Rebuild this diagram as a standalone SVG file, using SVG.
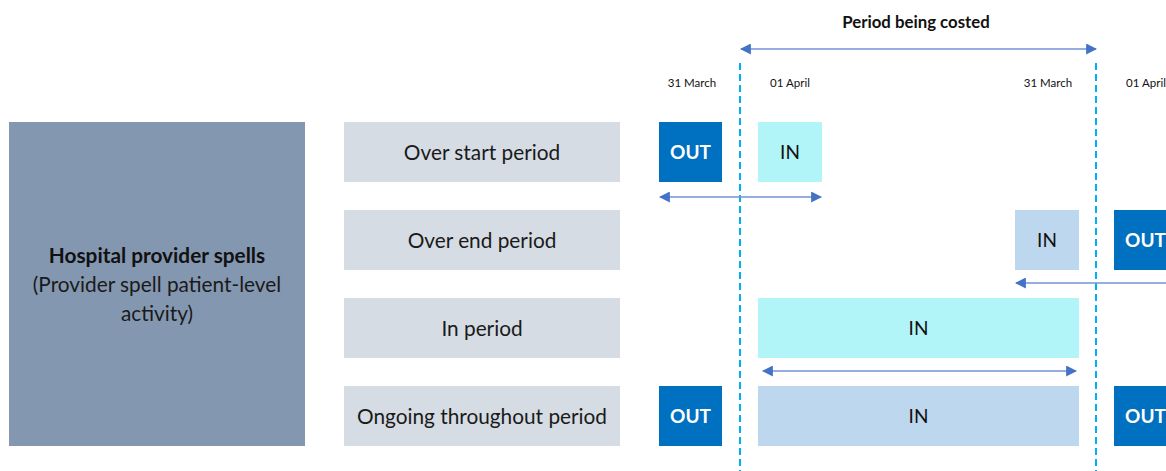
<svg xmlns="http://www.w3.org/2000/svg" width="1166" height="471" viewBox="0 0 1166 471">
<style>
text{font-family:Lato,"Open Sans","Liberation Sans",sans-serif;text-anchor:middle}
.lbl{fill:#D6DCE4}
.row{font-size:20.8px;fill:#1a1a1a}
.out{fill:#0070C0}
.outt{font-size:19px;font-weight:bold;fill:#ffffff}
.cyan{fill:#B2F5F9}
.lb{fill:#BDD7EE}
.int{font-size:19px;fill:#111}
.date{font-size:11.5px;fill:#111}
.arr{stroke:#7093D6;stroke-width:1.6;fill:none}
.dash{stroke:#00B0F0;stroke-width:2;stroke-dasharray:7,4;fill:none}
</style>
<defs>
<marker id="ah" viewBox="0 0 10 10" refX="9" refY="5" markerWidth="11" markerHeight="11" markerUnits="userSpaceOnUse" orient="auto-start-reverse">
<path d="M0,0 L10,5 L0,10 Z" fill="#4472C4"/>
</marker>
</defs>
<rect width="1166" height="471" fill="#ffffff"/>
<g id="header">
<text x="916" y="28" style="font-size:16.8px;font-weight:bold;fill:#111">Period being costed</text>
<text class="date" x="692" y="87">31 March</text>
<text class="date" x="790" y="87">01 April</text>
<text class="date" x="1048" y="87">31 March</text>
<text class="date" x="1146" y="87">01 April</text>
</g>
<g id="main">
<rect x="9" y="122" width="296" height="324" fill="#8497B0"/>
<text x="157" y="263" style="font-size:20.8px;font-weight:bold;fill:#111">Hospital provider spells</text>
<text x="157" y="292" style="font-size:20.8px;fill:#1a1a1a">(Provider spell patient-level</text>
<text x="157" y="321" style="font-size:20.8px;fill:#1a1a1a">activity)</text>
</g>
<g id="row1">
<rect class="lbl" x="344" y="122" width="276" height="60"/>
<text class="row" x="482" y="159.5">Over start period</text>
<rect class="out" x="659" y="122" width="63" height="60"/>
<text class="outt" x="690.5" y="159">OUT</text>
<rect class="cyan" x="758" y="122" width="64" height="60"/>
<text class="int" x="790" y="159">IN</text>
</g>
<g id="row2">
<rect class="lbl" x="344" y="210" width="276" height="60"/>
<text class="row" x="482" y="247.5">Over end period</text>
<rect class="lb" x="1015" y="210" width="64" height="60"/>
<text class="int" x="1047" y="247">IN</text>
<rect class="out" x="1114" y="210" width="63" height="60"/>
<text class="outt" x="1145.5" y="247">OUT</text>
</g>
<g id="row3">
<rect class="lbl" x="344" y="298" width="276" height="60"/>
<text class="row" x="482" y="335.5">In period</text>
<rect class="cyan" x="758" y="298" width="321" height="60"/>
<text class="int" x="918.5" y="335">IN</text>
</g>
<g id="row4">
<rect class="lbl" x="344" y="386" width="276" height="60"/>
<text class="row" x="482" y="423.5">Ongoing throughout period</text>
<rect class="out" x="659" y="386" width="63" height="60"/>
<text class="outt" x="690.5" y="423">OUT</text>
<rect class="lb" x="758" y="386" width="321" height="60"/>
<text class="int" x="918.5" y="423">IN</text>
<rect class="out" x="1114" y="386" width="63" height="60"/>
<text class="outt" x="1145.5" y="423">OUT</text>
</g>
<g id="connectors">
<line class="dash" x1="740" y1="63" x2="740" y2="471"/>
<line class="dash" x1="1096" y1="63" x2="1096" y2="471"/>
<line class="arr" x1="741" y1="49" x2="1096" y2="49" marker-start="url(#ah)" marker-end="url(#ah)"/>
<line class="arr" x1="660" y1="197" x2="821" y2="197" marker-start="url(#ah)" marker-end="url(#ah)"/>
<line class="arr" x1="1016" y1="283" x2="1170" y2="283" marker-start="url(#ah)"/>
<line class="arr" x1="763" y1="371" x2="1076" y2="371" marker-start="url(#ah)" marker-end="url(#ah)"/>
</g>
</svg>
